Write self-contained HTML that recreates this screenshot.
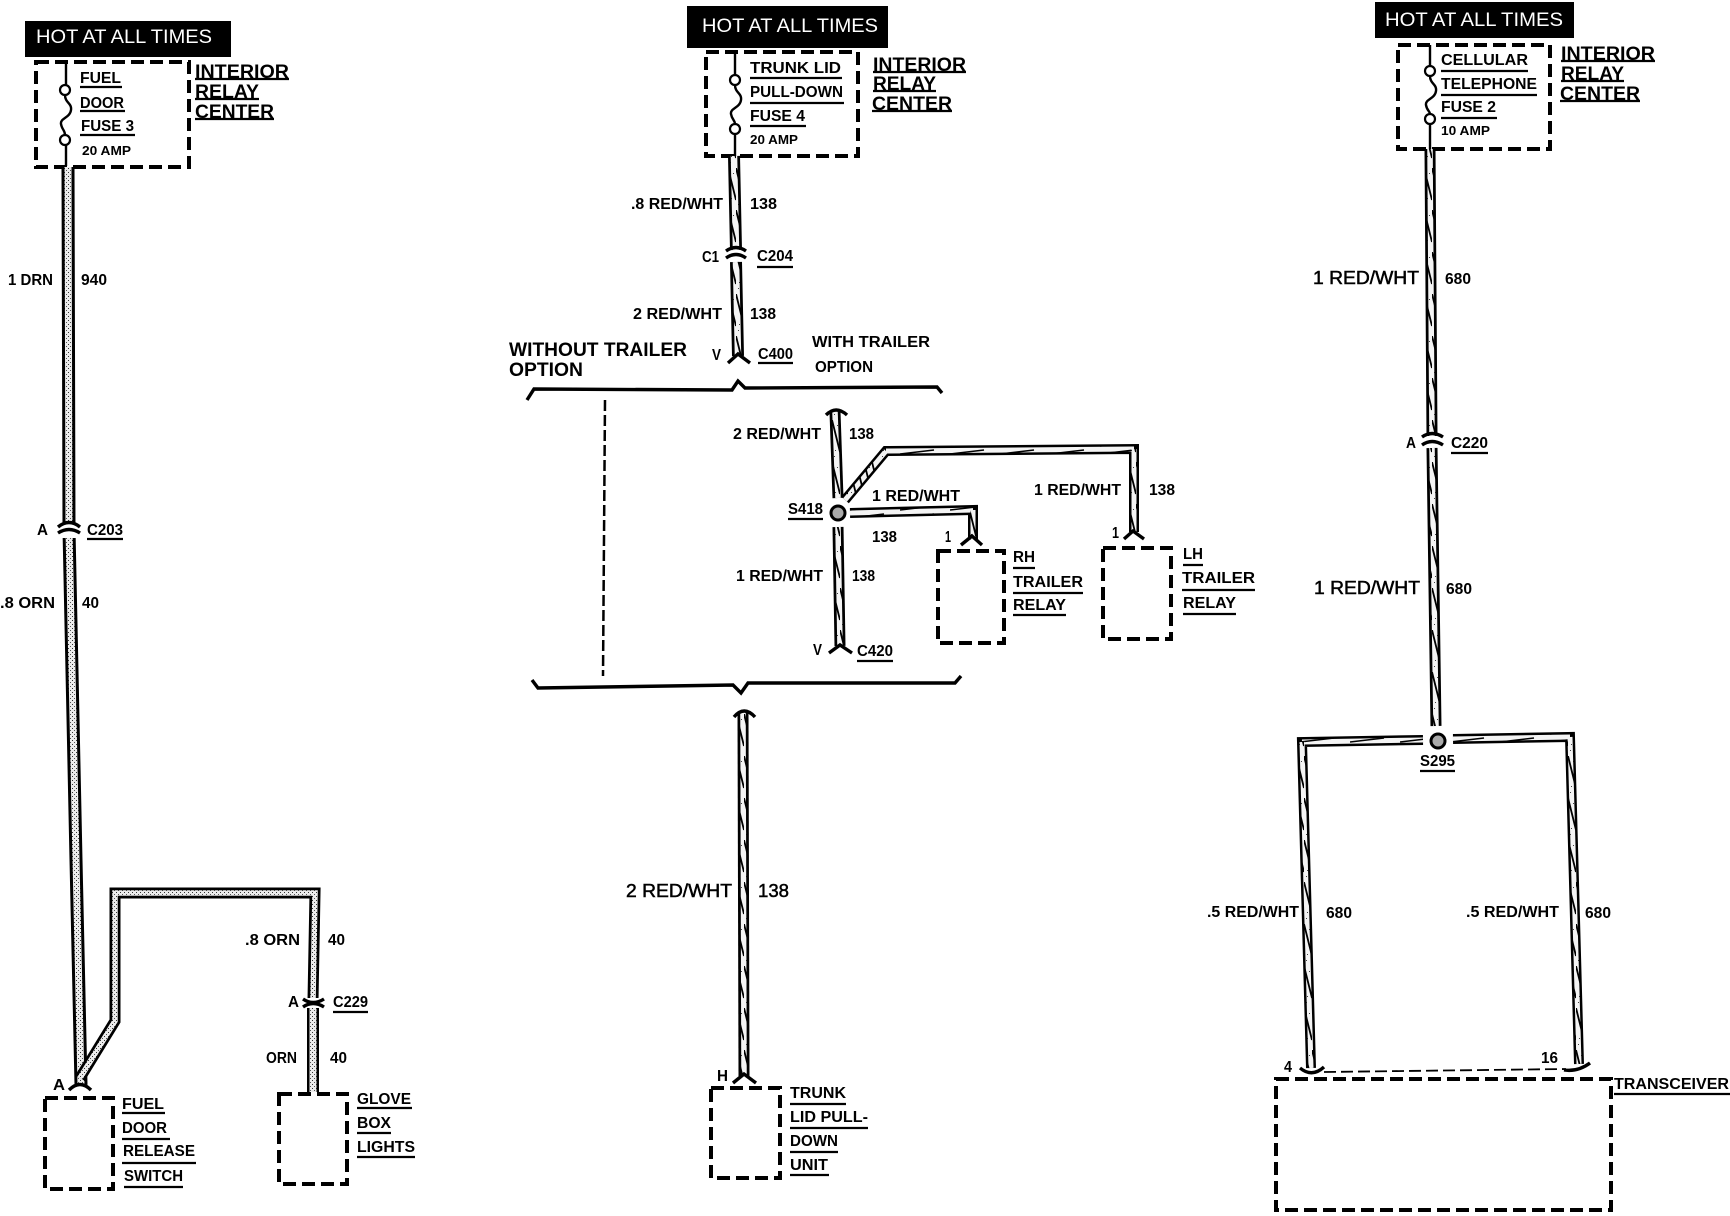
<!DOCTYPE html>
<html><head><meta charset="utf-8"><style>
html,body{margin:0;padding:0;background:#fff}
svg{display:block}
text{font-family:"Liberation Sans",sans-serif;fill:#000;font-weight:bold;font-size:16px}
.h{fill:#fff;font-weight:normal;font-size:19px}
.b{font-size:19px}
.m{font-size:18px;font-weight:normal;stroke:#000;stroke-width:.5}
.s{font-size:13px}
.o{fill:none;stroke:#000;stroke-linejoin:miter}
.box{fill:none;stroke:#000;stroke-width:4;stroke-dasharray:13 6}
.u{stroke:#000;stroke-width:2.2;fill:none}
.f{stroke:#000;stroke-width:3.4;fill:none}
.c{stroke:#000;stroke-width:2.2;fill:#fff}
</style></head><body>
<svg width="1730" height="1216" viewBox="0 0 1730 1216" xmlns="http://www.w3.org/2000/svg">
<defs>
<pattern id="st" width="4" height="4" patternUnits="userSpaceOnUse"><rect width="4" height="4" fill="#ececec"/><rect width="1" height="1" fill="#333"/><rect x="2" y="2" width="1" height="1" fill="#555"/></pattern>
<pattern id="tw" width="8" height="42" patternUnits="userSpaceOnUse"><rect width="8" height="42" fill="#f4f4f4"/><path d="M0 0L8 32" stroke="#000" stroke-width="1.8"/><rect x="3" y="30" width="1" height="1" fill="#444"/><rect x="5" y="5" width="1" height="1" fill="#444"/><rect x="2" y="36" width="1" height="1" fill="#444"/></pattern>
<pattern id="th" width="50" height="8" patternUnits="userSpaceOnUse"><rect width="50" height="8" fill="#f4f4f4"/><path d="M0 6L34 2" stroke="#000" stroke-width="1.5"/></pattern>
</defs>

<!-- LEFT -->
<rect x="25" y="21" width="206" height="36"/>
<text class="h" x="36" y="43" textLength="176" lengthAdjust="spacingAndGlyphs">HOT AT ALL TIMES</text>
<rect class="box" x="36" y="62" width="153" height="105"/>
<path class="f" style="stroke-width:2.4" d="M66 62V85M65 95C65 103 72 103 71 110C70 118 60 118 61 124C62 130 65 130 65 135M66 145V166"/>
<circle class="c" cx="65" cy="90" r="5"/><circle class="c" cx="65" cy="140" r="5"/>
<text x="80" y="83" textLength="41" lengthAdjust="spacingAndGlyphs">FUEL</text><path class="u" d="M80 87H122"/>
<text x="80" y="108" textLength="44" lengthAdjust="spacingAndGlyphs">DOOR</text><path class="u" d="M80 111H125"/>
<text x="81" y="131" textLength="53" lengthAdjust="spacingAndGlyphs">FUSE 3</text><path class="u" d="M80 135H135"/>
<text class="s" x="82" y="155" textLength="49" lengthAdjust="spacingAndGlyphs">20 AMP</text>
<text class="b" x="195" y="78" textLength="94" lengthAdjust="spacingAndGlyphs">INTERIOR</text><path class="u" d="M195 79H289"/>
<text class="b" x="195" y="98" textLength="64" lengthAdjust="spacingAndGlyphs">RELAY</text><path class="u" d="M195 99H259"/>
<text class="b" x="195" y="118" textLength="79" lengthAdjust="spacingAndGlyphs">CENTER</text><path class="u" d="M195 119H274"/>

<path class="o" stroke-width="13" d="M68 167L69 530L76 860L81 1085"/>
<path class="o" style="stroke:url(#st)" stroke-width="7" d="M68 167L69 530L76 860L81 1085"/>
<path class="o" stroke-width="11" d="M80 1078L115 1021V893H315L313 1000"/>
<path class="o" style="stroke:url(#st)" stroke-width="5.5" d="M80 1078L115 1021V893H315L313 1000"/>
<path class="o" stroke-width="12" d="M313 1006V1092"/>
<path class="o" style="stroke:url(#st)" stroke-width="7" d="M313 1006V1092"/>
<path d="M60 524h18v14h-18z" fill="#fff"/>
<path class="f" d="M58 527Q69 518 80 527M58 533Q69 526 80 533"/>
<path d="M304 998h18v10h-18z" fill="#fff"/>
<path class="f" d="M303 999Q313 1006 324 999M303 1007Q313 1000 324 1007"/>
<path class="f" d="M69 1090Q80 1079 91 1090"/>

<text x="8" y="285" textLength="45" lengthAdjust="spacingAndGlyphs">1 DRN</text><text x="81" y="285" textLength="26" lengthAdjust="spacingAndGlyphs">940</text>
<text x="37" y="535" textLength="11" lengthAdjust="spacingAndGlyphs">A</text><text x="87" y="535" textLength="36" lengthAdjust="spacingAndGlyphs">C203</text><path class="u" d="M87 539H123"/>
<text x="0" y="608" textLength="55" lengthAdjust="spacingAndGlyphs">.8 ORN</text><text x="82" y="608" textLength="17" lengthAdjust="spacingAndGlyphs">40</text>
<text x="245" y="945" textLength="55" lengthAdjust="spacingAndGlyphs">.8 ORN</text><text x="328" y="945" textLength="17" lengthAdjust="spacingAndGlyphs">40</text>
<text x="288" y="1007" textLength="11" lengthAdjust="spacingAndGlyphs">A</text><text x="333" y="1007" textLength="35" lengthAdjust="spacingAndGlyphs">C229</text><path class="u" d="M333 1012H368"/>
<text x="266" y="1063" textLength="31" lengthAdjust="spacingAndGlyphs">ORN</text><text x="330" y="1063" textLength="17" lengthAdjust="spacingAndGlyphs">40</text>
<text x="53" y="1090" textLength="12" lengthAdjust="spacingAndGlyphs">A</text>
<rect class="box" x="45" y="1098" width="68" height="91"/>
<rect class="box" x="279" y="1094" width="68" height="90"/>
<text x="122" y="1109" textLength="42" lengthAdjust="spacingAndGlyphs">FUEL</text><path class="u" d="M122 1113H165"/>
<text x="122" y="1133" textLength="45" lengthAdjust="spacingAndGlyphs">DOOR</text><path class="u" d="M122 1139H170"/>
<text x="123" y="1156" textLength="72" lengthAdjust="spacingAndGlyphs">RELEASE</text><path class="u" d="M122 1163H196"/>
<text x="124" y="1181" textLength="59" lengthAdjust="spacingAndGlyphs">SWITCH</text><path class="u" d="M124 1187H183"/>
<text x="357" y="1104" textLength="54" lengthAdjust="spacingAndGlyphs">GLOVE</text><path class="u" d="M357 1108H412"/>
<text x="357" y="1128" textLength="34" lengthAdjust="spacingAndGlyphs">BOX</text><path class="u" d="M357 1133H391"/>
<text x="357" y="1152" textLength="58" lengthAdjust="spacingAndGlyphs">LIGHTS</text><path class="u" d="M357 1157H415"/>

<!-- MIDDLE -->
<rect x="687" y="6" width="201" height="42"/>
<text class="h" x="702" y="32" textLength="176" lengthAdjust="spacingAndGlyphs">HOT AT ALL TIMES</text>
<rect class="box" x="706" y="52" width="152" height="104"/>
<path class="f" style="stroke-width:2.4" d="M735 52V75M735 85C735 93 742 93 741 100C740 108 730 108 731 114C732 120 735 120 735 124M735 134V156"/>
<circle class="c" cx="735" cy="80" r="5"/><circle class="c" cx="735" cy="129" r="5"/>
<text x="750" y="73" textLength="91" lengthAdjust="spacingAndGlyphs">TRUNK LID</text><path class="u" d="M750 78H842"/>
<text x="750" y="97" textLength="93" lengthAdjust="spacingAndGlyphs">PULL-DOWN</text><path class="u" d="M750 103H844"/>
<text x="750" y="121" textLength="55" lengthAdjust="spacingAndGlyphs">FUSE 4</text><path class="u" d="M750 126H806"/>
<text class="s" x="750" y="144" textLength="48" lengthAdjust="spacingAndGlyphs">20 AMP</text>
<text class="b" x="873" y="71" textLength="93" lengthAdjust="spacingAndGlyphs">INTERIOR</text><path class="u" d="M873 72H966"/>
<text class="b" x="873" y="90" textLength="63" lengthAdjust="spacingAndGlyphs">RELAY</text><path class="u" d="M873 91H936"/>
<text class="b" x="872" y="110" textLength="80" lengthAdjust="spacingAndGlyphs">CENTER</text><path class="u" d="M872 111H952"/>

<path class="o" stroke-width="12" d="M734 156L736 250M736 262L738 356"/>
<path class="o" style="stroke:url(#tw)" stroke-width="6.5" d="M734 156L736 250M736 262L738 356"/>
<path class="f" d="M726 251Q736 244 746 251M726 258Q736 251 746 258"/>
<path class="f" d="M728 363L738 354L750 363"/>
<text x="631" y="209" textLength="92" lengthAdjust="spacingAndGlyphs">.8 RED/WHT</text><text x="750" y="209" textLength="27" lengthAdjust="spacingAndGlyphs">138</text>
<text x="702" y="262" textLength="17" lengthAdjust="spacingAndGlyphs">C1</text><text x="757" y="261" textLength="36" lengthAdjust="spacingAndGlyphs">C204</text><path class="u" d="M757 267H793"/>
<text x="633" y="319" textLength="89" lengthAdjust="spacingAndGlyphs">2 RED/WHT</text><text x="750" y="319" textLength="26" lengthAdjust="spacingAndGlyphs">138</text>
<text x="712" y="360" textLength="9" lengthAdjust="spacingAndGlyphs">V</text><text x="758" y="359" textLength="35" lengthAdjust="spacingAndGlyphs">C400</text><path class="u" d="M758 363H793"/>
<text x="812" y="347" textLength="118" lengthAdjust="spacingAndGlyphs">WITH TRAILER</text><text x="815" y="372" textLength="58" lengthAdjust="spacingAndGlyphs">OPTION</text>
<text class="b" x="509" y="356" textLength="178" lengthAdjust="spacingAndGlyphs">WITHOUT TRAILER</text><text class="b" x="509" y="376" textLength="74" lengthAdjust="spacingAndGlyphs">OPTION</text>

<path class="f" d="M527 400L534 389L732 390L738 381L745 388L937 387L942 393"/>
<path fill="none" stroke="#000" stroke-width="2.5" stroke-dasharray="11 4" d="M605 400L603 676"/>
<path class="f" d="M532 680L538 688L733 685L741 693L748 683L955 683L961 676"/>

<path class="o" stroke-width="11" d="M835 412L838 498"/>
<path class="o" style="stroke:url(#tw)" stroke-width="5.5" d="M835 412L838 498"/>
<path class="f" d="M826 415Q836 405 847 415"/>
<path class="o" stroke-width="10" d="M845 500L886 451L1134 449V532"/>
<path class="o" style="stroke:url(#tw)" stroke-width="5" d="M845 500L886 451"/>
<path class="o" style="stroke:url(#th)" stroke-width="5" d="M886 451L1134 449"/>
<path class="o" style="stroke:url(#tw)" stroke-width="5" d="M1134 449V532"/>
<path class="f" d="M1124 539L1133 531L1144 539"/>
<circle cx="838" cy="513" r="7" fill="#aaa" stroke="#000" stroke-width="3"/>
<path class="o" stroke-width="10" d="M850 513L973 510V540"/>
<path class="o" style="stroke:url(#th)" stroke-width="5" d="M850 513L973 510"/>
<path class="o" style="stroke:url(#tw)" stroke-width="5" d="M973 510V540"/>
<path class="f" d="M961 545L972 536L982 545"/>
<path class="o" stroke-width="11" d="M838 527L840 646"/>
<path class="o" style="stroke:url(#tw)" stroke-width="5.5" d="M838 527L840 646"/>
<path class="f" d="M829 653L840 645L852 653"/>

<text x="733" y="439" textLength="88" lengthAdjust="spacingAndGlyphs">2 RED/WHT</text><text x="849" y="439" textLength="25" lengthAdjust="spacingAndGlyphs">138</text>
<text x="788" y="514" textLength="35" lengthAdjust="spacingAndGlyphs">S418</text><path class="u" d="M788 519H823"/>
<text x="872" y="501" textLength="88" lengthAdjust="spacingAndGlyphs">1 RED/WHT</text><text x="872" y="542" textLength="25" lengthAdjust="spacingAndGlyphs">138</text>
<text x="945" y="542" textLength="6" lengthAdjust="spacingAndGlyphs">1</text>
<text x="1034" y="495" textLength="87" lengthAdjust="spacingAndGlyphs">1 RED/WHT</text><text x="1149" y="495" textLength="26" lengthAdjust="spacingAndGlyphs">138</text>
<text x="1112" y="538" textLength="7" lengthAdjust="spacingAndGlyphs">1</text>
<text x="736" y="581" textLength="87" lengthAdjust="spacingAndGlyphs">1 RED/WHT</text><text x="852" y="581" textLength="23" lengthAdjust="spacingAndGlyphs">138</text>
<text x="813" y="655" textLength="9" lengthAdjust="spacingAndGlyphs">V</text><text x="857" y="656" textLength="36" lengthAdjust="spacingAndGlyphs">C420</text><path class="u" d="M857 661H893"/>
<rect class="box" x="938" y="551" width="66" height="92"/>
<rect class="box" x="1103" y="548" width="68" height="91"/>
<text x="1013" y="562" textLength="22" lengthAdjust="spacingAndGlyphs">RH</text><path class="u" d="M1013 568H1035"/>
<text x="1013" y="587" textLength="70" lengthAdjust="spacingAndGlyphs">TRAILER</text><path class="u" d="M1013 593H1083"/>
<text x="1013" y="610" textLength="53" lengthAdjust="spacingAndGlyphs">RELAY</text><path class="u" d="M1013 615H1066"/>
<text x="1183" y="559" textLength="20" lengthAdjust="spacingAndGlyphs">LH</text><path class="u" d="M1183 565H1203"/>
<text x="1182" y="583" textLength="73" lengthAdjust="spacingAndGlyphs">TRAILER</text><path class="u" d="M1182 590H1255"/>
<text x="1183" y="608" textLength="53" lengthAdjust="spacingAndGlyphs">RELAY</text><path class="u" d="M1183 614H1236"/>

<path class="o" stroke-width="11" d="M743 713L744 1076"/>
<path class="o" style="stroke:url(#tw)" stroke-width="5.5" d="M743 713L744 1076"/>
<path class="f" d="M734 717Q744 705 755 717"/>
<path class="f" d="M733 1083L744 1074L756 1083"/>
<text class="m" x="626" y="897" textLength="106" lengthAdjust="spacingAndGlyphs">2 RED/WHT</text><text class="m" x="758" y="897" textLength="31" lengthAdjust="spacingAndGlyphs">138</text>
<text x="717" y="1081" textLength="11" lengthAdjust="spacingAndGlyphs">H</text>
<rect class="box" x="711" y="1088" width="69" height="90"/>
<text x="790" y="1098" textLength="56" lengthAdjust="spacingAndGlyphs">TRUNK</text><path class="u" d="M790 1104H846"/>
<text x="790" y="1122" textLength="78" lengthAdjust="spacingAndGlyphs">LID PULL-</text><path class="u" d="M790 1128H868"/>
<text x="790" y="1146" textLength="48" lengthAdjust="spacingAndGlyphs">DOWN</text><path class="u" d="M790 1152H838"/>
<text x="790" y="1170" textLength="38" lengthAdjust="spacingAndGlyphs">UNIT</text><path class="u" d="M790 1175H829"/>

<!-- RIGHT -->
<rect x="1375" y="2" width="199" height="36"/>
<text class="h" x="1385" y="26" textLength="178" lengthAdjust="spacingAndGlyphs">HOT AT ALL TIMES</text>
<rect class="box" x="1398" y="45" width="152" height="104"/>
<path class="f" style="stroke-width:2.4" d="M1430 45V66M1430 76C1430 84 1437 84 1436 91C1435 99 1425 99 1426 105C1427 111 1430 111 1430 114M1430 124V149"/>
<circle class="c" cx="1430" cy="71" r="5"/><circle class="c" cx="1430" cy="119" r="5"/>
<text x="1441" y="65" textLength="87" lengthAdjust="spacingAndGlyphs">CELLULAR</text><path class="u" d="M1441 71H1528"/>
<text x="1441" y="89" textLength="96" lengthAdjust="spacingAndGlyphs">TELEPHONE</text><path class="u" d="M1441 95H1537"/>
<text x="1441" y="112" textLength="55" lengthAdjust="spacingAndGlyphs">FUSE 2</text><path class="u" d="M1441 118H1497"/>
<text class="s" x="1441" y="135" textLength="49" lengthAdjust="spacingAndGlyphs">10 AMP</text>
<text class="b" x="1561" y="60" textLength="94" lengthAdjust="spacingAndGlyphs">INTERIOR</text><path class="u" d="M1561 61H1655"/>
<text class="b" x="1561" y="80" textLength="63" lengthAdjust="spacingAndGlyphs">RELAY</text><path class="u" d="M1561 81H1624"/>
<text class="b" x="1560" y="100" textLength="80" lengthAdjust="spacingAndGlyphs">CENTER</text><path class="u" d="M1560 101H1640"/>

<path class="o" stroke-width="11" d="M1430 149L1432 436M1432 448L1436 726"/>
<path class="o" style="stroke:url(#tw)" stroke-width="5.5" d="M1430 149L1432 436M1432 448L1436 726"/>
<path class="f" d="M1422 437Q1432 430 1443 437M1422 445Q1432 438 1443 445"/>
<circle cx="1438" cy="741" r="7" fill="#aaa" stroke="#000" stroke-width="3"/>
<path class="o" stroke-width="10" d="M1423 740L1302 742L1311 1068"/>
<path class="o" style="stroke:url(#th)" stroke-width="5" d="M1423 740L1302 742"/>
<path class="o" style="stroke:url(#tw)" stroke-width="5" d="M1302 742L1311 1068"/>
<path class="o" stroke-width="10" d="M1453 739L1570 737L1579 1064"/>
<path class="o" style="stroke:url(#th)" stroke-width="5" d="M1453 739L1570 737"/>
<path class="o" style="stroke:url(#tw)" stroke-width="5" d="M1570 737L1579 1064"/>
<path class="f" d="M1300 1068Q1312 1078 1324 1067"/>
<path class="f" d="M1564 1070Q1578 1072 1590 1063"/>
<path fill="none" stroke="#000" stroke-width="1.8" stroke-dasharray="12 5" d="M1324 1072L1566 1069"/>
<rect class="box" x="1276" y="1079" width="335" height="131"/>

<text class="m" x="1313" y="284" textLength="106" lengthAdjust="spacingAndGlyphs">1 RED/WHT</text><text x="1445" y="284" textLength="26" lengthAdjust="spacingAndGlyphs">680</text>
<text x="1406" y="448" textLength="10" lengthAdjust="spacingAndGlyphs">A</text><text x="1451" y="448" textLength="37" lengthAdjust="spacingAndGlyphs">C220</text><path class="u" d="M1451 453H1488"/>
<text class="m" x="1314" y="594" textLength="106" lengthAdjust="spacingAndGlyphs">1 RED/WHT</text><text x="1446" y="594" textLength="26" lengthAdjust="spacingAndGlyphs">680</text>
<text x="1420" y="766" textLength="35" lengthAdjust="spacingAndGlyphs">S295</text><path class="u" d="M1420 771H1455"/>
<text x="1207" y="917" textLength="92" lengthAdjust="spacingAndGlyphs">.5 RED/WHT</text><text x="1326" y="918" textLength="26" lengthAdjust="spacingAndGlyphs">680</text>
<text x="1466" y="917" textLength="93" lengthAdjust="spacingAndGlyphs">.5 RED/WHT</text><text x="1585" y="918" textLength="26" lengthAdjust="spacingAndGlyphs">680</text>
<text x="1284" y="1072" textLength="8" lengthAdjust="spacingAndGlyphs">4</text><text x="1541" y="1063" textLength="17" lengthAdjust="spacingAndGlyphs">16</text>
<text x="1614" y="1089" textLength="115" lengthAdjust="spacingAndGlyphs">TRANSCEIVER</text><path class="u" d="M1614 1094H1730"/>
</svg>
</body></html>
